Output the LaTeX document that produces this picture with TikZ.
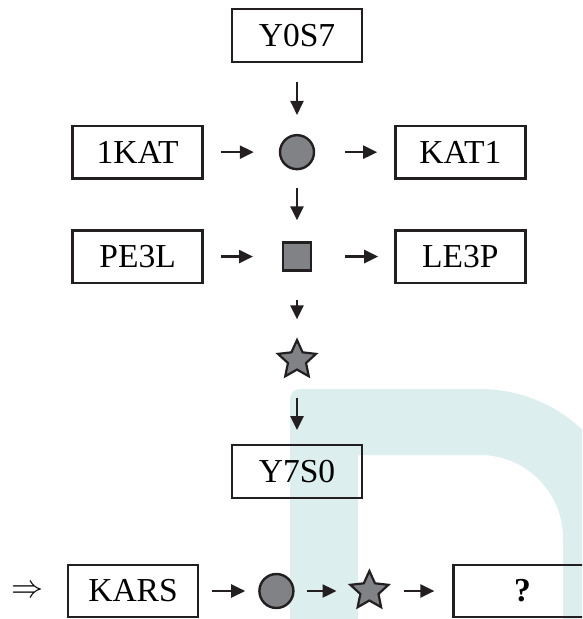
\documentclass[tikz,border=0pt]{standalone}
\usepackage{fontspec}
\setmainfont{Liberation Serif}
\usetikzlibrary{arrows.meta,positioning,shapes.geometric}
\definecolor{ink}{HTML}{231F20}
\definecolor{shade}{HTML}{808285}
\definecolor{archteal}{HTML}{DDEEEF}

\begin{document}
\begin{tikzpicture}[
x=1pt,y=1pt,
box/.style={
  draw=ink,
  line width=2.4pt,
  minimum width=130pt,
  minimum height=52.5pt,
  inner sep=0pt,
  font=\fontsize{33.5}{38}\selectfont
},
dot/.style={circle,draw=ink,fill=shade,line width=2.4pt,minimum size=34pt,inner sep=0pt},
sqr/.style={rectangle,draw=ink,fill=shade,line width=2.4pt,minimum size=28pt,inner sep=0pt},
starnode/.style={star,star points=5,star point ratio=2.1,draw=ink,fill=shade,line width=2.2pt,minimum size=40pt,inner sep=0pt},
arrow/.style={-{Triangle[length=14pt,width=13pt]},line width=2.4pt,draw=ink}
]
\useasboundingbox (0,0) rectangle (582,-619);
\clip (0,0) rectangle (582,-619);

% background arch
\fill[archteal] (290,-619) -- (290,-399) arc[start angle=180,end angle=90,radius=10]
  -- (480,-389) arc[start angle=90,end angle=0,radius=149]
  -- (629,-619) -- (563,-619)
  -- (563,-538) arc[start angle=0,end angle=90,radius=83]
  -- (358,-455) -- (358,-619) -- cycle;

% main column
\node[box] (top) at (297,-35.5) {Y0S7};
\node[dot,below=71pt of top] (c1) {};
\node[sqr,below=71pt of c1] (sq) {};
\node[starnode] (s1) at ([yshift=-103.5pt]sq.center) {};
\node[box,below=84pt of s1.center] (y7s0) {Y7S0};

\node[box,left=75pt of c1] (kat) {1KAT};
\node[box,right=79pt of c1] (tak) {KAT1};
\node[box,left=78pt of sq] (pel) {PE3L};
\node[box,right=82pt of sq] (lep) {LE3P};

% bottom row
\node[box] (kars) at (133,-591) {KARS};
\node[scale=3.2] (imp) at ([xshift=-106pt,yshift=-1pt]kars.center) {$\Rightarrow$};
\node[dot,right=59pt of kars] (c2) {};
\node[starnode] (s2) at ([xshift=93pt]c2.center) {};
\node[box,minimum width=138pt,right=83pt of s2.center] (qbox) {\bfseries ?};

\draw[arrow,shorten <=19pt,shorten >=19pt] (top) -- (c1);
\draw[arrow,shorten <=18pt,shorten >=21pt] (c1) -- (sq);
\draw[arrow,shorten <=28pt,shorten >=18pt] (sq) -- (s1);
\draw[arrow,shorten <=27pt,shorten >=14pt] (s1) -- (y7s0);
\draw[arrow,shorten <=17pt,shorten >=25pt] (kat) -- (c1);
\draw[arrow,shorten <=30pt,shorten >=17pt] (c1) -- (tak);
\draw[arrow,shorten <=17pt,shorten >=44pt] (pel) -- (pel -| sq);
\draw[arrow,shorten <=33pt,shorten >=16pt] (sq) -- (lep);
\draw[arrow,shorten <=13pt,shorten >=13pt] (kars) -- (c2);
\draw[arrow,shorten <=12pt,shorten >=19pt] (c2) -- (s2);
\draw[arrow,shorten <=21pt,shorten >=18pt] (s2) -- (qbox);
\end{tikzpicture}
\end{document}
